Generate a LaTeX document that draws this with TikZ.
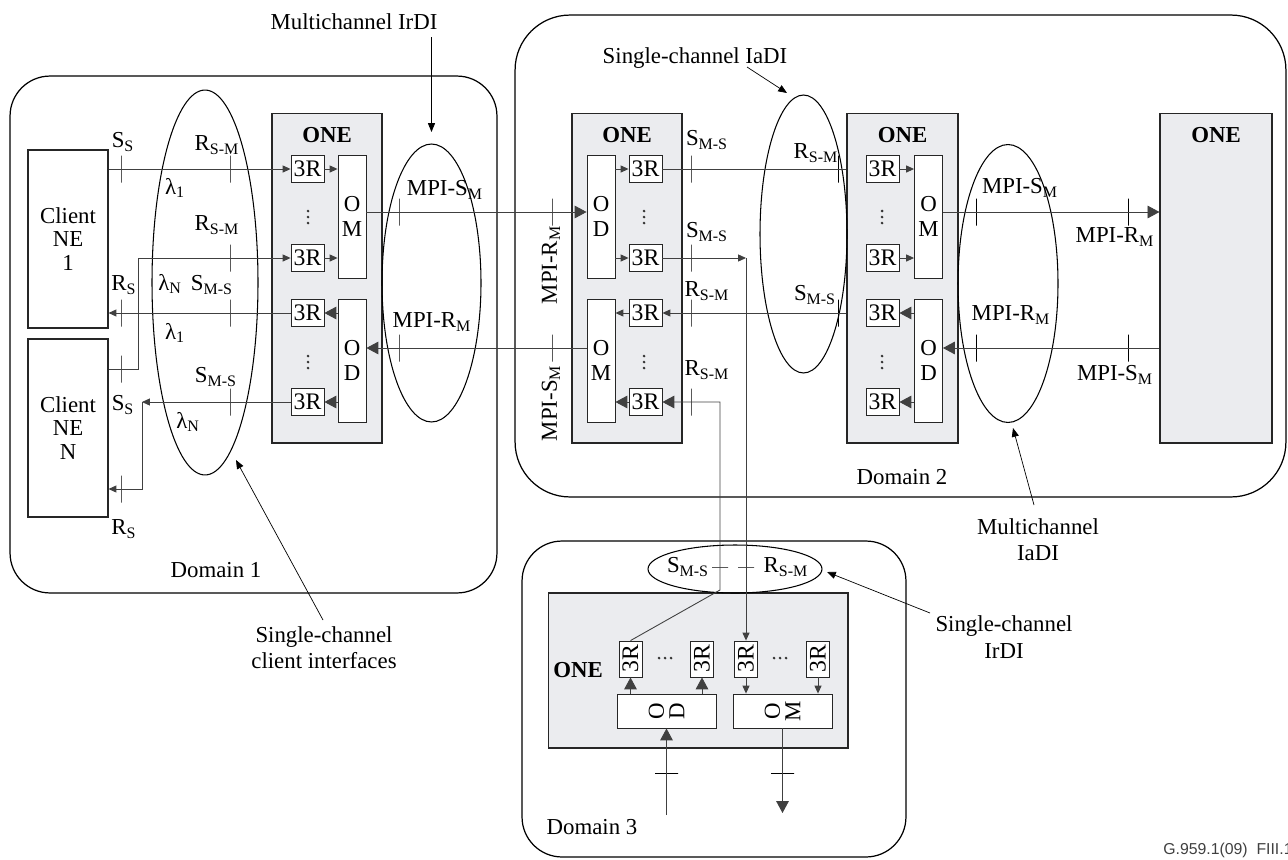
\documentclass[tikz,border=0pt]{standalone}
\usepackage{fontspec}
\setmainfont{Liberation Serif}
\newfontfamily\figfont{Liberation Sans}
\usetikzlibrary{calc,positioning,arrows.meta,shapes.geometric}
\definecolor{onegray}{RGB}{235,236,239}
\tikzset{
    domainbox/.style={rectangle, draw=black, line width=0.7pt, rounded corners=0.8cm},
    onebox/.style={rectangle, draw=black!85, fill=onegray, line width=0.6pt},
    onelbl/.style={font=\fontsize{13}{15}\selectfont\bfseries, inner sep=0pt},
    client/.style={rectangle, draw=black!85, line width=0.6pt, align=center, minimum width=1.6cm, minimum height=3.56cm, font=\fontsize{13}{13.3}\selectfont},
    regen/.style={rectangle, draw=black!85, fill=white, line width=0.5pt, minimum width=0.66cm, minimum height=0.54cm, inner sep=0pt, font=\fontsize{13.5}{14}\selectfont},
    mux/.style={rectangle, draw=black!85, fill=white, line width=0.5pt, minimum width=0.56cm, minimum height=2.46cm, inner sep=0pt, align=center, font=\fontsize{13}{14.2}\selectfont},
    ifc/.style={ellipse, draw=black, line width=0.6pt, inner sep=0pt},
    vtick/.style={rectangle, draw=black, line width=0.5pt, minimum width=0pt, minimum height=0.54cm, inner sep=0pt},
    htick/.style={rectangle, draw=black, line width=0.5pt, minimum height=0pt, minimum width=0.46cm, inner sep=0pt},
    lbl/.style={inner sep=0pt, font=\fontsize{13}{15}\selectfont},
    sig/.style={draw=black!75, line width=0.5pt},
    arr/.style={sig, -{Triangle[length=4.5pt, width=4pt]}},
    bigarr/.style={sig, -{Triangle[length=6.8pt, width=7.2pt]}},
    pointer/.style={draw=black, line width=0.4pt, -{Triangle[length=5pt, width=4pt]}},
    dot/.style={fill=black!80},
}

\begin{document}
\begin{tikzpicture}[x=0.02cm, y=-0.02cm]
    \useasboundingbox (0,0) rectangle (1288,859);

    % Domains
    \node[domainbox, minimum width=9.74cm, minimum height=10.34cm] (dom1) at (253.5,334.5) {};
    \node[domainbox, rounded corners=1.1cm, minimum width=15.42cm, minimum height=9.64cm] (dom2) at (900.5,256) {};
    \node[domainbox, minimum width=7.68cm, minimum height=6.32cm] (dom3) at (714,699) {};
    \node[lbl] (dom1lbl) at (216,570) {Domain 1};
    \node[lbl] (dom2lbl) at (902,477) {Domain 2};
    \node[lbl] (dom3lbl) at (592,827) {Domain 3};

    % Client network elements
    \node[client] (ne1) at (68,239) {Client\\NE\\1};
    \node[client] (neN) at (68,428) {Client\\NE\\N};

    % ONE boxes
    \node[onebox, minimum width=2.2cm, minimum height=6.6cm] (one1) at (327,278) {};
    \node[onebox, minimum width=2.2cm, minimum height=6.6cm] (one2a) at (627,278) {};
    \node[onebox, minimum width=2.22cm, minimum height=6.6cm] (one2b) at (902.5,278) {};
    \node[onebox, minimum width=2.24cm, minimum height=6.6cm] (one2c) at (1216,278) {};
    \node[onebox, minimum width=6cm, minimum height=3.1cm] (one3) at (698,670.5) {};
    \node[onelbl, below=0.3cm of one1.north] (one1lbl) {ONE};
    \node[onelbl, below=0.3cm of one2a.north] (one2albl) {ONE};
    \node[onelbl, below=0.3cm of one2b.north] (one2blbl) {ONE};
    \node[onelbl, below=0.3cm of one2c.north] (one2clbl) {ONE};
    \node[onelbl] (one3lbl) at (578,670) {ONE};

    % 3R regenerators
    \foreach \y [count=\i] in {169,258,313,402} {
        \node[regen] (r1\i) at (307.5,\y) {3R};
        \node[regen] (r2a\i) at (645.5,\y) {3R};
        \node[regen] (r2b\i) at (882.5,\y) {3R};
    }
    \foreach \x [count=\i] in {630.5,702,746,818}
        \node[regen, minimum width=0.46cm, minimum height=0.72cm] (r3\i) at (\x,659) {\rotatebox{90}{3R}};

    % Dots between the regenerators
    \foreach \x in {308,644,882}
        \foreach \y in {211,217,223,356,362,368}
            \fill[dot] (\x,\y) circle (0.85pt);
    \foreach \x in {665,780}
        \foreach \d in {-6,0,6}
            \fill[dot] (\x+\d,658) circle (0.85pt);

    % Multiplexers and demultiplexers
    \node[mux] (om1) at (352,216.5) {O\\M};
    \node[mux] (od1) at (352,360.5) {O\\D};
    \node[mux] (od2a) at (601,216.5) {O\\D};
    \node[mux] (om2a) at (601,360.5) {O\\M};
    \node[mux] (om2b) at (928.5,216.5) {O\\M};
    \node[mux] (od2b) at (928.5,360.5) {O\\D};
    \node[mux, minimum width=1.98cm, minimum height=0.68cm] (od3) at (666.5,711) {\rotatebox{90}{\shortstack{O\\D}}};
    \node[mux, minimum width=1.98cm, minimum height=0.68cm] (om3) at (782.5,711) {\rotatebox{90}{\shortstack{O\\M}}};

    % Interface ellipses
    \node[ifc, minimum width=2.12cm, minimum height=7.7cm] (cli) at (205,282.5) {};
    \node[ifc, minimum width=1.98cm, minimum height=5.56cm] (irdiM) at (431.5,283) {};
    \node[ifc, minimum width=1.74cm, minimum height=5.56cm] (iadiS) at (803.5,234) {};
    \node[ifc, minimum width=2cm, minimum height=5.56cm] (iadiM) at (1008,283.5) {};
    \node[ifc, minimum width=3.48cm, minimum height=0.96cm] (irdiS) at (735,569) {};

    % Reference points
    \node[vtick] (t1a) at (121,169) {};
    \node[vtick] (t1b) at (230,169) {};
    \node[vtick] (t2a) at (121,369) {};
    \node[vtick] (t2b) at (230,258) {};
    \node[vtick] (t3a) at (121,313) {};
    \node[vtick] (t3b) at (230,313) {};
    \node[vtick] (t4a) at (121,489) {};
    \node[vtick] (t4b) at (230,402) {};
    \node[vtick] (tm1) at (399,212) {};
    \node[vtick] (tm2) at (399,348) {};
    \node[vtick] (tm3) at (552,212) {};
    \node[vtick] (tm4) at (552,348) {};
    \node[vtick] (tk1) at (691,169) {};
    \node[vtick] (tk2) at (691,258) {};
    \node[vtick] (tk3) at (691,313) {};
    \node[vtick] (tk4) at (691,402) {};
    \node[vtick] (tk5) at (838,169) {};
    \node[vtick] (tk6) at (838,313) {};
    \node[vtick] (tm5) at (976,212) {};
    \node[vtick] (tm6) at (976,348) {};
    \node[vtick] (tm7) at (1128,212) {};
    \node[vtick] (tm8) at (1128,348) {};
    \node[htick, minimum width=0.32cm] (th1) at (720,567) {};
    \node[htick, minimum width=0.32cm] (th2) at (746,567) {};
    \node[htick] (th3) at (666.5,773) {};
    \node[htick] (th4) at (782.5,773) {};

    % Reference point labels
    \node[lbl] (ss1) at (123,142) {S\textsubscript{S}};
    \node[lbl] (rsm1) at (217,145) {R\textsubscript{S-M}};
    \node[lbl] (lam1) at (175,188) {λ\textsubscript{1}};
    \node[lbl] (rsm2) at (217,225) {R\textsubscript{S-M}};
    \node[lbl] (lamN1) at (170,284) {λ\textsubscript{N}};
    \node[lbl] (rs1) at (124,285) {R\textsubscript{S}};
    \node[lbl] (sms1) at (212,285) {S\textsubscript{M-S}};
    \node[lbl] (lam2) at (175,333) {λ\textsubscript{1}};
    \node[lbl] (sms2) at (216,377) {S\textsubscript{M-S}};
    \node[lbl] (ss2) at (123,405) {S\textsubscript{S}};
    \node[lbl] (lamN2) at (188,422) {λ\textsubscript{N}};
    \node[lbl] (rs2) at (124,529) {R\textsubscript{S}};
    \node[lbl] (mpi1) at (445,190) {MPI-S\textsubscript{M}};
    \node[lbl] (mpi2) at (432,322) {MPI-R\textsubscript{M}};
    \node[lbl, rotate=90] (mpi3) at (551,265) {MPI-R\textsubscript{M}};
    \node[lbl, rotate=90] (mpi4) at (551,403) {MPI-S\textsubscript{M}};
    \node[lbl] (sms3) at (707,140) {S\textsubscript{M-S}};
    \node[lbl] (sms4) at (707,232) {S\textsubscript{M-S}};
    \node[lbl] (rsm3) at (707,291) {R\textsubscript{S-M}};
    \node[lbl] (rsm4) at (707,370) {R\textsubscript{S-M}};
    \node[lbl] (rsm5) at (816,153) {R\textsubscript{S-M}};
    \node[lbl] (sms5) at (815,295) {S\textsubscript{M-S}};
    \node[lbl] (mpi5) at (1020,188) {MPI-S\textsubscript{M}};
    \node[lbl] (mpi6) at (1011,315) {MPI-R\textsubscript{M}};
    \node[lbl] (mpi7) at (1115,237) {MPI-R\textsubscript{M}};
    \node[lbl] (mpi8) at (1115,375) {MPI-S\textsubscript{M}};
    \node[lbl] (sms6) at (688,567) {S\textsubscript{M-S}};
    \node[lbl] (rsm6) at (786,567) {R\textsubscript{S-M}};

    % Domain 1: client side
    \coordinate (jog2) at (138,258);
    \coordinate (jog4) at (142,402);
    \draw[arr] (ne1.east |- r11) -- (r11.west);
    \draw[arr] (neN.east |- t2a) -| (jog2) -- (r12.west);
    \draw[arr] (r13.west) -- (ne1.east |- r13);
    \draw[arr] (r14.west) -- (jog4);
    \draw[arr] (jog4) |- (neN.east |- t4a);

    % Inside the ONEs
    \foreach \i in {1,2} {
        \draw[arr] (r1\i.east) -- (r1\i.east -| om1.west);
        \draw[arr] (r2a\i.west -| od2a.east) -- (r2a\i.west);
        \draw[arr] (r2b\i.east) -- (r2b\i.east -| om2b.west);
    }
    \foreach \i in {3,4} {
        \draw[bigarr] (r1\i.east -| od1.west) -- (r1\i.east);
        \draw[bigarr] (r2b\i.east -| od2b.west) -- (r2b\i.east);
    }
    \draw[arr] (r2a3.west) -- (r2a3.west -| om2a.east);
    \draw[bigarr] (r2a4.west) -- (r2a4.west -| om2a.east);

    % Multichannel links
    \draw[bigarr] (om1.east |- tm1) -- (od2a.west |- tm1);
    \draw[bigarr] (om2a.west |- tm2) -- (od1.east |- tm2);
    \draw[bigarr] (om2b.east |- tm5) -- (one2c.west |- tm5);
    \draw[bigarr] (one2c.west |- tm6) -- (od2b.east |- tm6);

    % Single-channel links in domain 2
    \draw[sig] (r2a1.east) -- (r2a1.east -| one2b.west);
    \draw[arr] (r2a3.east -| one2b.west) -- (r2a3.east);

    % Links to domain 3
    \coordinate (jogA) at (746,258);
    \coordinate (jogB) at (720,590);
    \coordinate (jogC) at (720,402);
    \draw[arr] (r2a2.east) -- (jogA);
    \draw[arr] (jogA) -- (r33.north);
    \draw[bigarr] (r31.north) -- (jogB) -- (jogC) -- (r2a4.east);

    % Inside the domain 3 ONE
    \coordinate (in3) at (666.5,815);
    \coordinate (out3) at (782.5,813);
    \draw[bigarr] (od3.north -| r31) -- (r31.south);
    \draw[bigarr] (od3.north -| r32) -- (r32.south);
    \draw[arr] (r33.south) -- (r33.south |- om3.north);
    \draw[arr] (r34.south) -- (r34.south |- om3.north);
    \draw[bigarr] (in3) -- (od3.south);
    \draw[bigarr] (om3.south) -- (out3);

    % Interface callouts
    \node[lbl] (irdiMlbl) at (354,22) {Multichannel IrDI};
    \node[lbl] (iadiSlbl) at (695,58) {Single-channel IaDI};
    \node[lbl, align=center] (clilbl) at (324,648) {Single-channel\\client interfaces};
    \node[lbl, align=center] (iadiMlbl) at (1038,540) {Multichannel\\IaDI};
    \node[lbl, align=center] (irdiSlbl) at (1004,637) {Single-channel\\IrDI};
    \coordinate (p1s) at (431.5,37);
    \coordinate (p1e) at (431.5,132);
    \coordinate (p2s) at (747,67);
    \coordinate (p2e) at (787,93);
    \coordinate (p3s) at (323,620);
    \coordinate (p3e) at (236,460);
    \coordinate (p4s) at (1034,505);
    \coordinate (p4e) at (1013,428);
    \coordinate (p5s) at (930,613);
    \coordinate (p5e) at (827,572);
    \draw[pointer] (p1s) -- (p1e);
    \draw[pointer] (p2s) -- (p2e);
    \draw[pointer] (p3s) -- (p3e);
    \draw[pointer] (p4s) -- (p4e);
    \draw[pointer] (p5s) -- (p5e);

    % Figure number
    \node[anchor=west, inner sep=0pt, text=black!75, font=\figfont\fontsize{9}{11}\selectfont] (figid) at (1163,850) {G.959.1(09)\ \ FIII.1};
\end{tikzpicture}
\end{document}
